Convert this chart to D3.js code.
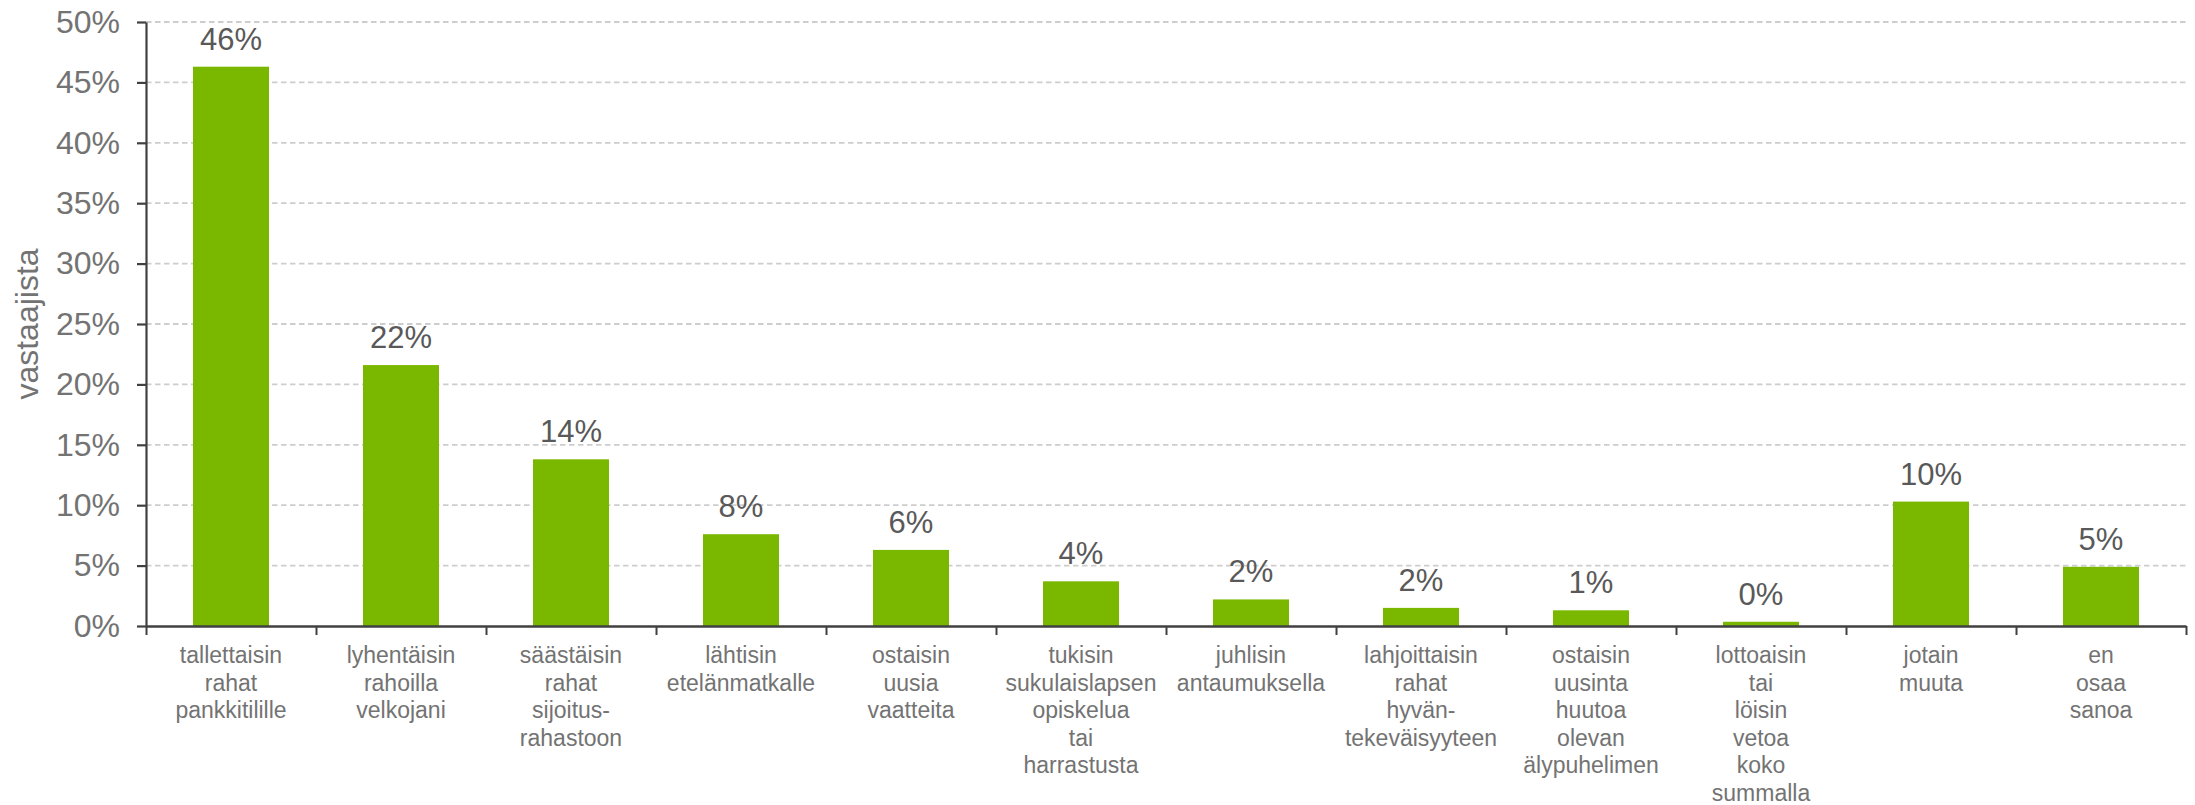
<!DOCTYPE html>
<html>
<head>
<meta charset="utf-8">
<script src="https://cdn.jsdelivr.net/npm/d3@7"></script>
<style>
  body { margin: 0; background: #fff; }
  text { font-family: "Liberation Sans", Arial, sans-serif; }
</style>
</head>
<body>
<div id="chart"></div>
<script>
// answers, one word per line as in the original
var categories = [
  ["tallettaisin", "rahat", "pankkitilille"],
  ["lyhentäisin", "rahoilla", "velkojani"],
  ["säästäisin", "rahat", "sijoitus-", "rahastoon"],
  ["lähtisin", "etelänmatkalle"],
  ["ostaisin", "uusia", "vaatteita"],
  ["tukisin", "sukulaislapsen", "opiskelua", "tai", "harrastusta"],
  ["juhlisin", "antaumuksella"],
  ["lahjoittaisin", "rahat", "hyvän-", "tekeväisyyteen"],
  ["ostaisin", "uusinta", "huutoa", "olevan", "älypuhelimen"],
  ["lottoaisin", "tai", "löisin", "vetoa", "koko", "summalla"],
  ["jotain", "muuta"],
  ["en", "osaa", "sanoa"]
];
var values = [46.3, 21.6, 13.8, 7.6, 6.3, 3.7, 2.2, 1.5, 1.3, 0.35, 10.3, 4.9];
var yTicks = [0, 5, 10, 15, 20, 25, 30, 35, 40, 45, 50];
var yTitle = "vastaajista";

var width = 2195, height = 805;
var margin = {top: 22, right: 9, bottom: 179, left: 146};
var innerW = width - margin.left - margin.right;
var innerH = height - margin.top - margin.bottom;

var svg = d3.select("#chart").append("svg")
  .attr("width", width)
  .attr("height", height);

var g = svg.append("g")
  .attr("transform", "translate(" + margin.left + "," + margin.top + ")");

var idx = d3.range(categories.length);

var x = d3.scaleBand()
  .domain(idx)
  .range([0, innerW])
  .paddingInner(0.553)
  .paddingOuter(0.2765);

var y = d3.scaleLinear()
  .domain([0, 50])
  .range([innerH, 0]);

// gridlines
g.selectAll(".grid")
  .data(yTicks.slice(1))
  .enter().append("line")
  .attr("x1", 0)
  .attr("x2", innerW)
  .attr("y1", function(d) { return y(d); })
  .attr("y2", function(d) { return y(d); })
  .attr("stroke", "#cdcdcd")
  .attr("stroke-width", 1.8)
  .attr("stroke-dasharray", "5.5,3.5");

// bars
g.selectAll(".bar")
  .data(values)
  .enter().append("rect")
  .attr("x", function(d, i) { return x(i); })
  .attr("y", function(d) { return y(d); })
  .attr("width", x.bandwidth())
  .attr("height", function(d) { return innerH - y(d); })
  .attr("fill", "#7ab800");

// value labels
g.selectAll(".val")
  .data(values)
  .enter().append("text")
  .attr("x", function(d, i) { return x(i) + x.bandwidth() / 2; })
  .attr("y", function(d) { return y(d) - 17; })
  .attr("text-anchor", "middle")
  .attr("font-size", 31)
  .attr("fill", "#595959")
  .text(function(d) { return Math.round(d) + "%"; });

// y axis
var yAxis = g.append("g")
  .call(d3.axisLeft(y)
    .tickValues(yTicks)
    .tickFormat(function(d) { return d + "%"; })
    .tickSize(9)
    .tickSizeOuter(0)
    .tickPadding(17));
yAxis.select(".domain").attr("stroke", "#404040").attr("stroke-width", 2.2);
yAxis.selectAll(".tick line").attr("stroke", "#404040").attr("stroke-width", 2.2);
yAxis.selectAll(".tick text")
  .attr("font-size", 32)
  .attr("fill", "#737373")
  .style("font-family", "'Liberation Sans', Arial, sans-serif");

// x axis: ticks at category boundaries
var xEdge = d3.scaleLinear().domain([0, categories.length]).range([0, innerW]);
var xAxis = g.append("g")
  .attr("transform", "translate(0," + innerH + ")")
  .call(d3.axisBottom(xEdge)
    .tickValues(d3.range(categories.length + 1))
    .tickFormat("")
    .tickSize(9)
    .tickSizeOuter(0));
xAxis.select(".domain").attr("stroke", "#404040").attr("stroke-width", 2.6);
xAxis.selectAll(".tick line").attr("stroke", "#404040").attr("stroke-width", 2);

// category labels
var cat = g.selectAll(".cat")
  .data(categories)
  .enter().append("text")
  .attr("text-anchor", "middle")
  .attr("font-size", 23)
  .attr("fill", "#737373")
  .attr("transform", function(d, i) {
    return "translate(" + (x(i) + x.bandwidth() / 2) + "," + (innerH + 37) + ")";
  });
cat.selectAll("tspan")
  .data(function(d) { return d; })
  .enter().append("tspan")
  .attr("x", 0)
  .attr("y", function(d, j) { return j * 27.5; })
  .text(function(d) { return d; });

// y title
svg.append("text")
  .attr("transform", "translate(38," + (margin.top + innerH / 2) + ") rotate(-90)")
  .attr("text-anchor", "middle")
  .attr("font-size", 32)
  .attr("fill", "#737373")
  .text(yTitle);
</script>
</body>
</html>
